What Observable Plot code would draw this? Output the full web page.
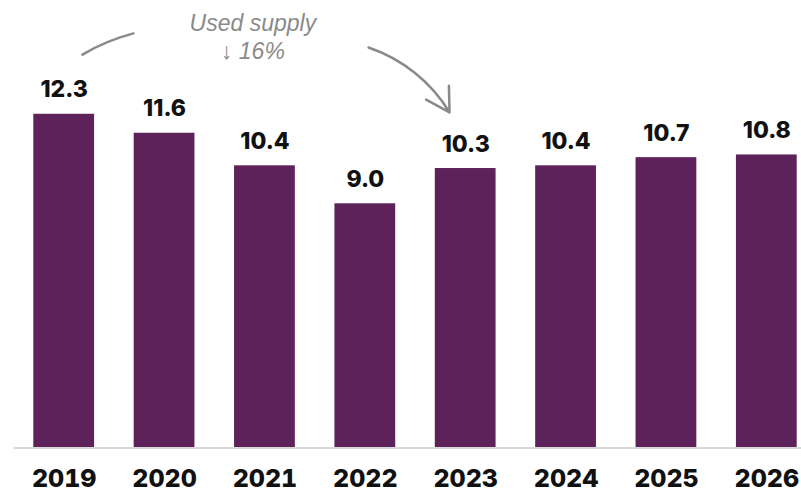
<!DOCTYPE html>
<html>
<head>
<meta charset="utf-8">
<script src="https://cdn.jsdelivr.net/npm/d3@7"></script>
<script src="https://cdn.jsdelivr.net/npm/@observablehq/plot@0.6"></script>
<style>
  html, body { margin: 0; padding: 0; background: #fff; }
  #chart svg { display: block; }
</style>
</head>
<body>
<div id="chart"></div>
<script>
// Data
const years = [2019, 2020, 2021, 2022, 2023, 2024, 2025, 2026];
const values = [12.3, 11.6, 10.4, 9.0, 10.3, 10.4, 10.7, 10.8];

// Annotation (data units: x = year, y = value)
const annotationLines = ["Used supply", "↓ 16%"];
const annotationPos = [{x: 2020.88, y: 15.65}, {x: 2020.88, y: 14.6}];
const arrowLeft = [{x1: 2019.182, y1: 14.50, x2: 2019.69, y2: 15.28}];
const arrowRight = [{x1: 2022.032, y1: 14.76, x2: 2022.839, y2: 12.37}];

const data = years.map((year, i) => ({year, value: values[i]}));
const notes = annotationLines.map((text, i) => ({text, ...annotationPos[i]}));

const barColor = "#5c2259";
const grey = "#8a8a8a";
const boldFont = "Inter, 'Open Sans', sans-serif";

const chart = Plot.plot({
  width: 801,
  height: 493,
  marginLeft: 13.5,
  marginRight: 0,
  marginTop: 40.5,
  marginBottom: 45.5,
  x: {type: "linear", domain: [2018.5, 2026.5], range: [13.5, 816.5], axis: null},
  y: {domain: [0, 15], axis: null},
  marks: [
    Plot.rectY(data, {
      x1: d => d.year - 0.5,
      x2: d => d.year + 0.5,
      y: "value",
      fill: barColor,
      insetLeft: 19.8,
      insetRight: 19.8
    }),
    Plot.ruleY([0], {stroke: "#d9d9d9", strokeWidth: 2}),
    Plot.text(data, {
      x: "year",
      y: "value",
      text: d => d.value.toFixed(1),
      lineAnchor: "bottom",
      dy: -17,
      fontSize: 23,
      fontWeight: 800,
      fontFamily: boldFont,
      fill: "#111"
    }),
    Plot.axisX({
      ticks: years,
      tickSize: 0,
      tickPadding: 21.5,
      tickFormat: d => String(d),
      fontSize: 25,
      fontWeight: 800,
      fontFamily: boldFont,
      fill: "#111"
    }),
    Plot.text(notes, {
      x: "x",
      y: "y",
      text: "text",
      fontSize: 23,
      fontStyle: "italic",
      fontFamily: "'Liberation Sans', Arial, sans-serif",
      fill: grey
    }),
    Plot.arrow(arrowLeft, {
      x1: "x1", y1: "y1", x2: "x2", y2: "y2",
      bend: 8,
      headLength: 0,
      stroke: grey,
      strokeWidth: 2.5
    }),
    Plot.arrow(arrowRight, {
      x1: "x1", y1: "y1", x2: "x2", y2: "y2",
      bend: 20,
      headLength: 16,
      stroke: grey,
      strokeWidth: 2.5
    })
  ]
});

document.getElementById("chart").append(chart);
</script>
</body>
</html>
